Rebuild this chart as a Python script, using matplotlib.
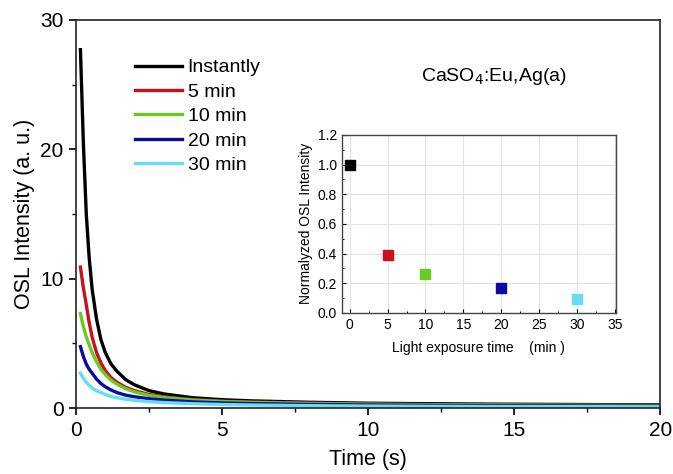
import matplotlib.pyplot as plt
import numpy as np

plt.rcParams['font.family'] = ['Liberation Sans', 'DejaVu Sans']

# OSL decay curves (time in s, intensity in a.u.)
t = [0.15, 0.25, 0.35, 0.45, 0.55, 0.7, 0.85, 1.0, 1.2, 1.4, 1.7, 2.0, 2.5, 3.0, 4.0, 5.0, 6.0, 8.0, 10.0, 12.0, 15.0, 18.0, 20.0]
instantly = [27.7, 20.5, 15.0, 11.6, 9.2, 6.9, 5.3, 4.3, 3.4, 2.85, 2.2, 1.8, 1.35, 1.1, 0.8, 0.65, 0.56, 0.45, 0.38, 0.34, 0.30, 0.27, 0.26]
min5 = [10.9, 9.3, 8.0, 6.6, 5.5, 4.3, 3.5, 2.9, 2.35, 2.0, 1.6, 1.35, 1.05, 0.88, 0.66, 0.54, 0.47, 0.38, 0.32, 0.28, 0.24, 0.22, 0.21]
min10 = [7.3, 6.3, 5.5, 4.9, 4.3, 3.6, 3.0, 2.6, 2.15, 1.85, 1.5, 1.25, 0.98, 0.82, 0.62, 0.51, 0.44, 0.36, 0.30, 0.26, 0.23, 0.21, 0.20]
min20 = [4.75, 4.0, 3.4, 3.0, 2.7, 2.25, 1.9, 1.65, 1.4, 1.2, 1.0, 0.88, 0.72, 0.62, 0.48, 0.40, 0.35, 0.28, 0.24, 0.21, 0.18, 0.16, 0.15]
min30 = [2.7, 2.3, 2.0, 1.75, 1.55, 1.35, 1.2, 1.05, 0.9, 0.8, 0.68, 0.6, 0.5, 0.43, 0.34, 0.28, 0.24, 0.19, 0.16, 0.14, 0.12, 0.11, 0.10]

labels = ['Instantly', '5 min', '10 min', '20 min', '30 min']
colors = ['#000000', '#c8101e', '#66cc22', '#0a0a9e', '#66ddf2']

# inset: normalized intensity vs light exposure time
exposure = [0, 5, 10, 20, 30]
normalized = [1.0, 0.39, 0.26, 0.17, 0.095]

fig = plt.figure(figsize=(6.73, 4.74), dpi=100)
ax = fig.add_axes([0.113, 0.139, 0.868, 0.819])

for y, lab, c in zip([instantly, min5, min10, min20, min30], labels, colors):
    ax.plot(t, y, color=c, lw=2.4, label=lab)

ax.set_xlim(0, 20)
ax.set_ylim(0, 30)
ax.set_xticks([0, 5, 10, 15, 20])
ax.set_xticks([2.5, 7.5, 12.5, 17.5], minor=True)
ax.set_yticks([0, 10, 20, 30])
ax.set_yticks([5, 15, 25], minor=True)
ax.tick_params(which='major', direction='out', length=5, width=1.2, labelsize=15, pad=4)
ax.tick_params(which='minor', direction='out', length=3, width=1.0)
for s in ax.spines.values():
    s.set_linewidth(1.2)
    s.set_color('#222222')
ax.set_xlabel('Time (s)', fontsize=15.5, labelpad=7)
ax.set_ylabel('OSL Intensity (a. u.)', fontsize=15.5, labelpad=4)

ax.legend(loc='upper left', bbox_to_anchor=(0.101, 0.90), frameon=False, fontsize=14,
          handlelength=2.4, handletextpad=0.3, labelspacing=0.35, borderaxespad=0,
          borderpad=0)

ax.text(0.716, 0.855, r'CaSO$_4$:Eu,Ag(a)', transform=ax.transAxes, fontsize=14,
        ha='center', va='center')

ins = fig.add_axes([0.508, 0.340, 0.407, 0.3755])
ins.grid(True, color='#e4e4e4', lw=0.8)
ins.set_axisbelow(True)
for x, y, c in zip(exposure, normalized, colors):
    ins.plot(x, y, 's', color=c, ms=6.5)
ins.set_xlim(-1.05, 35.15)
ins.set_ylim(0, 1.2)
ins.set_xticks(np.arange(0, 36, 5))
ins.set_xticks(np.arange(2.5, 35, 5), minor=True)
ins.set_yticks(np.arange(0, 1.21, 0.2))
ins.set_yticks(np.arange(0.1, 1.2, 0.2), minor=True)
ins.tick_params(which='major', direction='in', length=3, width=0.8, labelsize=10)
ins.tick_params(which='minor', direction='in', length=1.5, width=0.8)
for s in ins.spines.values():
    s.set_linewidth(1.0)
    s.set_color('#444444')
ins.set_xlabel('Light exposure time    (min )', fontsize=10, labelpad=7)
ins.set_ylabel('Normalyzed OSL Intensity', fontsize=10, labelpad=3)

fig.savefig('out.png', dpi=100)
